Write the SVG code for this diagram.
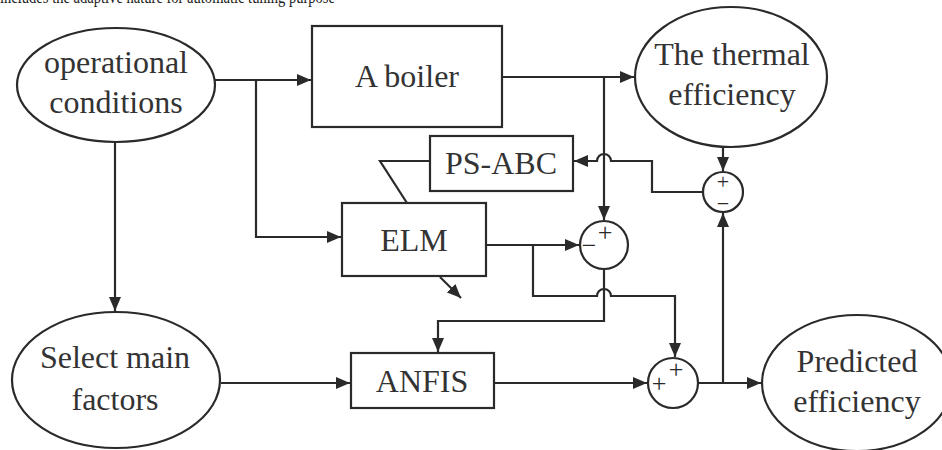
<svg xmlns="http://www.w3.org/2000/svg" width="942" height="450" viewBox="0 0 942 450">
<defs>
<marker id="arr" viewBox="0 0 14 12" refX="14" refY="6" markerWidth="14" markerHeight="12" markerUnits="userSpaceOnUse" orient="auto">
<path d="M0,0 L14,6 L0,12 z" fill="#2a2a2a"/>
</marker>
<style>
.shape{fill:#fff;stroke:#2a2a2a;stroke-width:2.2}
.lbl{font-family:"Liberation Serif",serif;font-size:32px;fill:#333;text-anchor:middle}
.sgn{font-family:"Liberation Serif",serif;font-size:26px;fill:#2a2a2a;text-anchor:middle;dominant-baseline:central}
.sgs{font-family:"Liberation Serif",serif;font-size:22px;fill:#2a2a2a;text-anchor:middle;dominant-baseline:central}
.c{fill:none;stroke:#2a2a2a;stroke-width:2.2}
.a{marker-end:url(#arr)}
</style>
</defs>
<rect width="942" height="450" fill="#fff"/>
<text x="0" y="3" font-family="Liberation Serif, serif" font-size="18" fill="#222" textLength="335" lengthAdjust="spacingAndGlyphs">includes the adaptive nature for automatic tuning purpose</text>

<g id="connectors">
<path class="c a" d="M214,80 H311"/>
<path class="c a" d="M256,80 V237 H341"/>
<path class="c a" d="M115,142 V311"/>
<path class="c a" d="M502,77 H634"/>
<path class="c a" d="M604,77 V220"/>
<path class="c a" d="M703,192 H652 V161 H611 A7,7 0 0 0 597,161 H574"/>
<path class="c a" d="M723,147 V171"/>
<path class="c a" d="M723,383 V213"/>
<path class="c a" d="M486,245 H579"/>
<path class="c a" d="M533,245 V296 H597 A7,7 0 0 1 611,296 H675 V357"/>
<path class="c a" d="M604,269 V321 H438 V352"/>
<path class="c a" d="M221,383 H350"/>
<path class="c a" d="M494,383 H647"/>
<path class="c a" d="M699,383 H761"/>
<path class="c" d="M430,161 H380 L407,203"/>
<path class="c a" d="M440,277 L461,298"/>
</g>

<g id="operational">
<ellipse class="shape" cx="116" cy="85" rx="99" ry="57"/>
<text class="lbl" x="116" y="73">operational</text>
<text class="lbl" x="116" y="113">conditions</text>
</g>
<g id="boiler">
<rect class="shape" x="312" y="26" width="190" height="101"/>
<text class="lbl" x="407" y="87">A boiler</text>
</g>
<g id="thermal">
<ellipse class="shape" cx="731" cy="77" rx="96" ry="70"/>
<text class="lbl" x="732" y="65">The thermal</text>
<text class="lbl" x="732" y="105">efficiency</text>
</g>
<g id="psabc">
<rect class="shape" x="430" y="136" width="143" height="55"/>
<text class="lbl" x="501" y="174">PS-ABC</text>
</g>
<g id="elm">
<rect class="shape" x="342" y="203" width="144" height="73"/>
<text class="lbl" x="414" y="251">ELM</text>
</g>
<g id="sum1">
<circle class="shape" cx="604" cy="245" r="24"/>
<text class="sgn" x="605" y="232">+</text>
<text class="sgn" x="589" y="245">−</text>
</g>
<g id="sum2">
<circle class="shape" cx="723" cy="192" r="20"/>
<text class="sgs" x="723" y="181">+</text>
<text class="sgs" x="723" y="203">−</text>
</g>
<g id="select">
<ellipse class="shape" cx="116" cy="380" rx="104" ry="68"/>
<text class="lbl" x="115" y="368">Select main</text>
<text class="lbl" x="115" y="410">factors</text>
</g>
<g id="anfis">
<rect class="shape" x="351" y="353" width="143" height="55"/>
<text class="lbl" x="422" y="392">ANFIS</text>
</g>
<g id="sum3">
<circle class="shape" cx="673" cy="383" r="25"/>
<text class="sgn" x="659" y="383">+</text>
<text class="sgn" x="676" y="369">+</text>
</g>
<g id="predicted">
<ellipse class="shape" cx="857" cy="383" rx="95" ry="68"/>
<text class="lbl" x="857" y="372">Predicted</text>
<text class="lbl" x="857" y="412">efficiency</text>
</g>
</svg>
